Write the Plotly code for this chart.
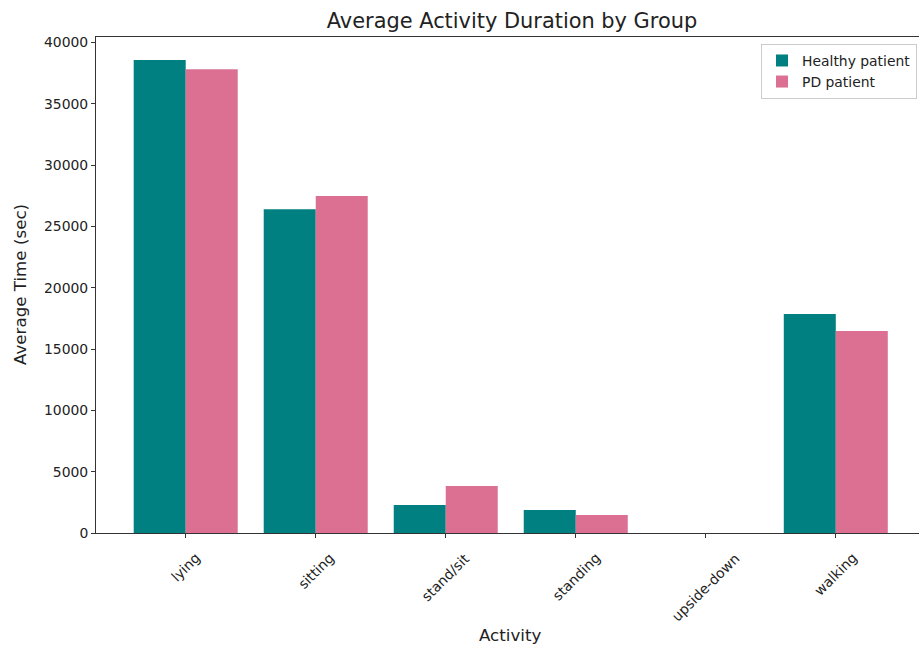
import plotly.graph_objects as go

categories = ["lying", "sitting", "stand/sit", "standing", "upside-down", "walking"]
healthy = [38580, 26400, 2280, 1880, 0, 17860]
pd_patient = [37820, 27490, 3830, 1470, 0, 16480]
series_names = ["Healthy patient", "PD patient"]
y_ticks = [0, 5000, 10000, 15000, 20000, 25000, 30000, 35000, 40000]
y_tick_labels = [str(v) for v in y_ticks]

FONT = "DejaVu Sans"
x_idx = list(range(len(categories)))

W, H = 919, 646

fig = go.Figure()
fig.add_trace(go.Bar(x=[i - 0.2 for i in x_idx], y=healthy, width=0.4, name=series_names[0],
                     marker=dict(color="#008080", line=dict(width=0))))
fig.add_trace(go.Bar(x=[i + 0.2 for i in x_idx], y=pd_patient, width=0.4, name=series_names[1],
                     marker=dict(color="#DB7093", line=dict(width=0))))

annotations = []
for i, c in enumerate(categories):
    annotations.append(dict(x=i, y=-0.028, xref="x", yref="paper", text=c, showarrow=False,
                            textangle=-45, xanchor="center", yanchor="top",
                            font=dict(family=FONT, size=13.9, color="#222")))
annotations.append(dict(x=0.504, y=-0.206, xref="paper", yref="paper", text="Activity",
                        showarrow=False, xanchor="center", yanchor="middle",
                        font=dict(family=FONT, size=16.7, color="#222")))
annotations.append(dict(x=-0.0923, y=0.5, xref="paper", yref="paper", text="Average Time (sec)",
                        showarrow=False, textangle=-90, xanchor="center", yanchor="middle",
                        font=dict(family=FONT, size=16.7, color="#222")))

fig.update_layout(
    width=W, height=H,
    margin=dict(l=96, r=0, t=37, b=H - 533, pad=0),
    paper_bgcolor="white", plot_bgcolor="white",
    barmode="overlay",
    title=dict(text="Average Activity Duration by Group", x=512 / W, xanchor="center",
               y=1 - 21 / H, yanchor="middle", yref="container",
               font=dict(family=FONT, size=20.9, color="#222")),
    font=dict(family=FONT, size=13.9, color="#222"),
    legend=dict(x=0.9976, xanchor="right", y=0.986, yanchor="top",
                bordercolor="#cccccc", borderwidth=1, bgcolor="rgba(255,255,255,0.8)",
                font=dict(family=FONT, size=13.9, color="#222"),
                itemwidth=30, tracegroupgap=2),
    annotations=annotations,
    showlegend=True,
)
fig.update_xaxes(range=[-0.69, 5.64], tickvals=x_idx, ticktext=[""] * len(categories),
                 showticklabels=False, ticks="outside", ticklen=4, tickcolor="#333",
                 showline=True, linecolor="#333", linewidth=1, mirror=True,
                 showgrid=False, zeroline=False)
fig.update_yaxes(range=[0, 40450], tickvals=y_ticks, ticktext=y_tick_labels, ticks="outside",
                 ticklen=4, tickcolor="#333", showline=True, linecolor="#333", linewidth=1,
                 mirror=False, showgrid=False, zeroline=False,
                 tickfont=dict(family=FONT, size=13.9, color="#222"))

# remove the default page margin so the 919x646 figure fills the window exactly
fig.write_html("out.html",
               config={"displayModeBar": False},
               post_script="document.body.style.margin='0';document.body.style.overflow='hidden';")
